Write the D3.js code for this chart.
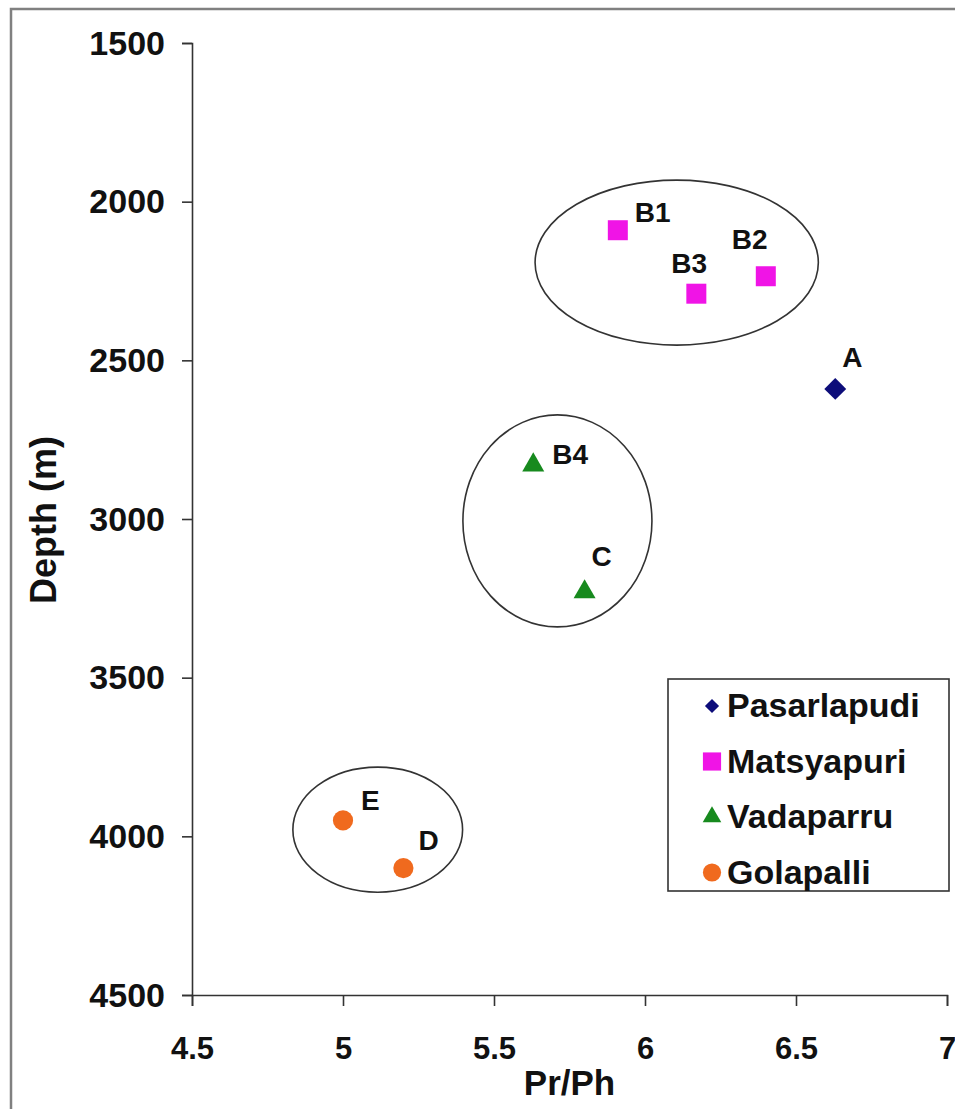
<!DOCTYPE html>
<html>
<head>
<meta charset="utf-8">
<script src="https://cdn.jsdelivr.net/npm/d3@7"></script>
<style>
  body { margin: 0; background: #fff; }
  svg text { font-family: "Liberation Sans", Arial, sans-serif; font-weight: bold; fill: #111; }
</style>
</head>
<body>
<div id="chart"></div>
<script>
// fields and samples
var fields = ["Pasarlapudi", "Matsyapuri", "Vadaparru", "Golapalli"];
var sampleNames = ["A", "B1", "B2", "B3", "B4", "C", "D", "E"];
var sampleField = ["Pasarlapudi", "Matsyapuri", "Matsyapuri", "Matsyapuri", "Vadaparru", "Vadaparru", "Golapalli", "Golapalli"];
var prPh = [6.63, 5.91, 6.40, 6.17, 5.63, 5.80, 5.20, 5.00];
var depth = [2590, 2090, 2235, 2290, 2830, 3230, 4100, 3950];

var xTicks = [4.5, 5, 5.5, 6, 6.5, 7];
var yTicks = [1500, 2000, 2500, 3000, 3500, 4000, 4500];

// grouping ellipses (data units): Matsyapuri, Vadaparru, Golapalli
var groupCx = [6.105, 5.71, 5.115];
var groupCy = [2192, 3006, 3979];
var groupRx = [0.469, 0.313, 0.281];
var groupRy = [260, 334, 197];

var width = 955, height = 1109;
var margin = {left: 192, right: 8, top: 43, bottom: 114};

var svg = d3.select("#chart").append("svg")
  .attr("width", width)
  .attr("height", height);

// picture frame
svg.append("rect")
  .attr("x", 11).attr("y", 9)
  .attr("width", 960).attr("height", 1120)
  .attr("fill", "none")
  .attr("stroke", "#808080")
  .attr("stroke-width", 2.5);

var x = d3.scaleLinear().domain([4.5, 7]).range([margin.left, width - margin.right]);
var y = d3.scaleLinear().domain([1500, 4500]).range([margin.top, height - margin.bottom]);

var colour = d3.scaleOrdinal().domain(fields).range(["#0d0d7a", "#f014e6", "#178a1e", "#f06a1e"]);
var shape = d3.scaleOrdinal().domain(fields)
  .range([d3.symbolSquare, d3.symbolSquare, d3.symbolTriangle, d3.symbolCircle]);
var markSize = {Pasarlapudi: 240, Matsyapuri: 400, Vadaparru: 210, Golapalli: 320};
var keySize = {Pasarlapudi: 100, Matsyapuri: 330, Vadaparru: 150, Golapalli: 260};

// axes
var yAxis = svg.append("g")
  .attr("transform", "translate(" + margin.left + ",0)")
  .call(d3.axisLeft(y).tickValues(yTicks).tickSize(10).tickPadding(17).tickFormat(d3.format("d")));
var xAxis = svg.append("g")
  .attr("transform", "translate(0," + (height - margin.bottom) + ")")
  .call(d3.axisBottom(x).tickValues(xTicks).tickSize(11).tickPadding(31).tickFormat(function(d) { return d; }));

[xAxis, yAxis].forEach(function(g) {
  g.select(".domain").attr("stroke", "#333").attr("stroke-width", 1.6);
  g.selectAll(".tick line").attr("stroke", "#333").attr("stroke-width", 1.6);
  g.selectAll(".tick text").attr("fill", "#111").style("font-family", "Liberation Sans, Arial, sans-serif");
});
yAxis.selectAll(".tick text").style("font-size", "34px").attr("dy", "0.33em");
xAxis.selectAll(".tick text").style("font-size", "31px");

// axis titles
svg.append("text")
  .attr("x", (margin.left + width - margin.right) / 2)
  .attr("y", 1095)
  .attr("text-anchor", "middle")
  .style("font-size", "35px")
  .text("Pr/Ph");

svg.append("text")
  .attr("transform", "translate(56,520) rotate(-90)")
  .attr("text-anchor", "middle")
  .style("font-size", "36px")
  .text("Depth (m)");

// group outlines
svg.selectAll(".group")
  .data(groupCx)
  .enter()
  .append("ellipse")
  .attr("class", "group")
  .attr("cx", function(d, i) { return x(groupCx[i]); })
  .attr("cy", function(d, i) { return y(groupCy[i]); })
  .attr("rx", function(d, i) { return x(groupCx[i] + groupRx[i]) - x(groupCx[i]); })
  .attr("ry", function(d, i) { return y(groupCy[i] + groupRy[i]) - y(groupCy[i]); })
  .attr("fill", "none")
  .attr("stroke", "#333")
  .attr("stroke-width", 1.6);

// samples
var samples = sampleNames.map(function(n, i) {
  return {name: n, field: sampleField[i], px: prPh[i], d: depth[i]};
});

svg.selectAll(".pt")
  .data(samples)
  .enter()
  .append("path")
  .attr("class", "pt")
  .attr("d", function(d) { return d3.symbol().type(shape(d.field)).size(markSize[d.field])(); })
  .attr("transform", function(d) {
    var r = d.field === "Pasarlapudi" ? " rotate(45)" : "";
    return "translate(" + x(d.px) + "," + y(d.d) + ")" + r;
  })
  .attr("fill", function(d) { return colour(d.field); });

// where each sample name sits relative to its marker
var labelOffset = {
  A: [7, -22], B1: [17, -8], B2: [-34, -27], B3: [-25, -21],
  B4: [19, -1], C: [7, -26], D: [15, -18], E: [18, -10]
};

svg.selectAll(".lbl")
  .data(samples)
  .enter()
  .append("text")
  .attr("class", "lbl")
  .attr("x", function(d) { return x(d.px) + labelOffset[d.name][0]; })
  .attr("y", function(d) { return y(d.d) + labelOffset[d.name][1]; })
  .style("font-size", "28px")
  .text(function(d) { return d.name; });

// legend
var legend = svg.append("g").attr("transform", "translate(668,679)");
legend.append("rect")
  .attr("width", 281).attr("height", 212)
  .attr("fill", "#fff")
  .attr("stroke", "#333")
  .attr("stroke-width", 1.6);

var item = legend.selectAll(".key")
  .data(fields)
  .enter()
  .append("g")
  .attr("class", "key")
  .attr("transform", function(d, i) { return "translate(0," + (38 + i * 55.5) + ")"; });

item.append("path")
  .attr("d", function(d) { return d3.symbol().type(shape(d)).size(keySize[d])(); })
  .attr("transform", function(d) {
    return "translate(44,-11)" + (d === "Pasarlapudi" ? " rotate(45)" : "");
  })
  .attr("fill", function(d) { return colour(d); });

item.append("text")
  .attr("x", 59)
  .attr("y", 0)
  .style("font-size", "34px")
  .text(function(d) { return d; });
</script>
</body>
</html>
